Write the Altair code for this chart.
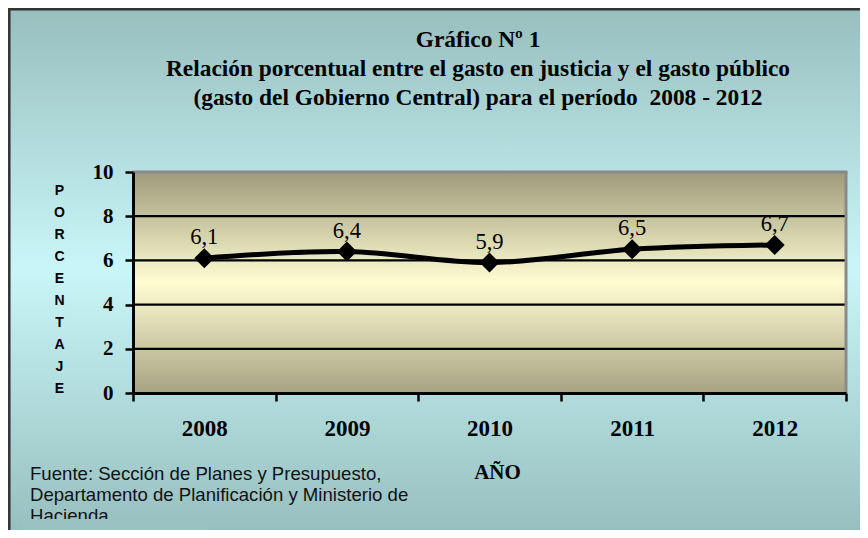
import altair as alt
import pandas as pd

# ---- data ----
years = ["2008", "2009", "2010", "2011", "2012"]
values = [6.1, 6.4, 5.9, 6.5, 6.7]
value_labels = [f"{v:.1f}".replace(".", ",") for v in values]
y_ticks = [0, 2, 4, 6, 8, 10]
grid_values = [2, 4, 6, 8]
title_lines = [
    "Gráfico Nº 1",
    "Relación porcentual entre el gasto en justicia y el gasto público",
    "(gasto del Gobierno Central) para el período \u00a02008 - 2012",
]
y_title_letters = list("PORCENTAJE")
x_title = "AÑO"
source_lines = [
    "Fuente: Sección de Planes y Presupuesto,",
    "Departamento de Planificación y Ministerio de",
    "Hacienda.",
]

# ---- layout ----
W, H = 713, 221
PAD = {"left": 125, "top": 164, "right": 14, "bottom": 137}
TOTAL_W = W + PAD["left"] + PAD["right"]
TOTAL_H = H + PAD["top"] + PAD["bottom"]

df = pd.DataFrame({"year": years, "value": values, "label": value_labels})
grid_df = pd.DataFrame({"value": grid_values})
one = pd.DataFrame({"k": [0]})

SERIF = "Liberation Serif"
SANS = "Liberation Sans"

x_enc = alt.X(
    "year:O",
    scale=alt.Scale(type="band", paddingInner=0, paddingOuter=0),
    bandPosition=0.5,
    axis=alt.Axis(
        labelAngle=0,
        labelFont=SERIF,
        labelFontWeight="bold",
        labelFontSize=23,
        labelColor="black",
        labelPadding=16,
        tickBand="extent",
        tickSize=8,
        tickWidth=2.5,
        tickColor="black",
        domainColor="black",
        domainWidth=3,
        grid=False,
        title=x_title,
        titleFont=SERIF,
        titleFontWeight="bold",
        titleFontSize=21,
        titleColor="black",
        titleX=364,
        titleY=79,
        titleAlign="center",
        titleBaseline="middle",
        zindex=1,
    ),
)

y_enc = alt.Y(
    "value:Q",
    scale=alt.Scale(domain=[0, 10], nice=False, zero=True),
    axis=alt.Axis(
        values=y_ticks,
        grid=False,
        labelFont=SERIF,
        labelFontWeight="bold",
        labelFontSize=21,
        labelColor="black",
        labelPadding=12,
        tickSize=8,
        tickWidth=2.5,
        tickColor="black",
        domainColor="black",
        domainWidth=3,
        title=y_title_letters,
        titleAngle=0,
        titleFont=SANS,
        titleFontWeight="bold",
        titleFontSize=14,
        titleColor="black",
        titleLineHeight=22.1,
        titleX=-74,
        titleY=18,
        titleAlign="center",
        titleBaseline="middle",
        zindex=1,
    ),
)

outer_gradient = alt.LinearGradient(
    gradient="linear",
    stops=[
        alt.GradientStop(color="#98bebe", offset=0),
        alt.GradientStop(color="#c9f6f8", offset=0.5),
        alt.GradientStop(color="#98bfbf", offset=1),
    ],
    x1=0, x2=0, y1=0, y2=1,
)
plot_gradient = alt.LinearGradient(
    gradient="linear",
    stops=[
        alt.GradientStop(color="#9e9b7a", offset=0),
        alt.GradientStop(color="#fdfdd2", offset=0.5),
        alt.GradientStop(color="#a6a382", offset=1),
    ],
    x1=0, x2=0, y1=0, y2=1,
)

background = alt.Chart(one).mark_rect(fill=outer_gradient).encode(
    x=alt.value(-PAD["left"]),
    x2=alt.value(TOTAL_W - PAD["left"]),
    y=alt.value(-PAD["top"]),
    y2=alt.value(TOTAL_H - PAD["top"]),
)
frame = alt.Chart(one).mark_rect(
    fillOpacity=0, stroke="#333333", strokeWidth=2.5
).encode(
    x=alt.value(-PAD["left"] + 1.3),
    x2=alt.value(TOTAL_W - PAD["left"] + 40),
    y=alt.value(-PAD["top"] + 1.3),
    y2=alt.value(TOTAL_H - PAD["top"] + 40),
)
plot_bg = alt.Chart(one).mark_rect(fill=plot_gradient).encode(
    x=alt.value(0), x2=alt.value(W), y=alt.value(0), y2=alt.value(H)
)
gridlines = alt.Chart(grid_df).mark_rule(color="black", strokeWidth=2.2).encode(
    y=y_enc
)
top_border = alt.Chart(one).mark_rule(color="#8a8a8a", strokeWidth=3).encode(
    x=alt.value(0), x2=alt.value(W + 1.5), y=alt.value(0)
)
right_border = alt.Chart(one).mark_rule(color="#8a8a8a", strokeWidth=3).encode(
    x=alt.value(W), y=alt.value(0), y2=alt.value(H)
)

base = alt.Chart(df).encode(x=x_enc, y=y_enc)
line = base.mark_line(color="black", strokeWidth=5, interpolate="cardinal")
points = base.mark_point(shape="diamond", filled=True, size=400, color="black", opacity=1)
labels = base.mark_text(
    font=SERIF, fontSize=22.5, color="black", dy=-21, baseline="middle"
).encode(text="label:N")

title = alt.Chart(one).mark_text(
    text=title_lines,
    align="center",
    baseline="alphabetic",
    font=SERIF,
    fontSize=23.4,
    fontWeight="bold",
    lineHeight=29,
    color="black",
).encode(x=alt.value(478 - 8 - PAD["left"]), y=alt.value(47 - 8 - PAD["top"]))

source = alt.Chart(one).mark_text(
    text=source_lines,
    align="left",
    baseline="middle",
    font=SANS,
    fontSize=18.6,
    lineHeight=21,
    color="#111111",
).encode(x=alt.value(22 - PAD["left"]), y=alt.value(473.5 - 8 - PAD["top"]))

# the text box of the source note clips its last line, as in the original
clip_cover = alt.Chart(one).mark_rect(fill="#9bc2c2").encode(
    x=alt.value(15 - PAD["left"]),
    x2=alt.value(200 - PAD["left"]),
    y=alt.value(519 - 8 - PAD["top"]),
    y2=alt.value(TOTAL_H - PAD["top"]),
)

chart = alt.layer(
    background, frame, plot_bg, gridlines, top_border, right_border,
    line, points, labels, title, source, clip_cover,
).properties(
    width=W,
    height=H,
    padding=PAD,
    autosize=alt.AutoSizeParams(type="none"),
).configure_view(strokeWidth=0).configure(background="white")

chart.save("out.html", embed_options={"renderer": "svg", "actions": False})
